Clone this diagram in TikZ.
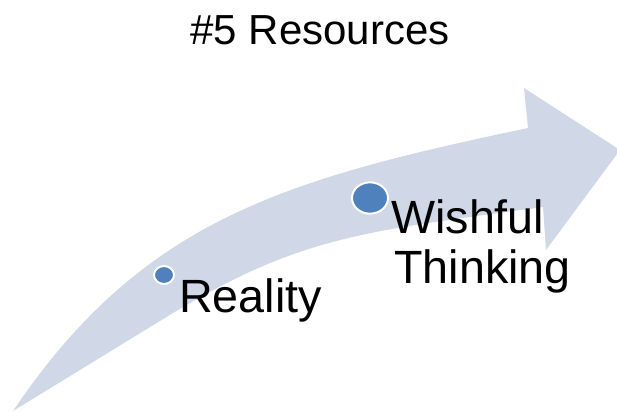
\documentclass[tikz,border=0pt]{standalone}
\usepackage{fontspec}
\setmainfont{Liberation Sans}
\usetikzlibrary{shapes.geometric}
\definecolor{arrowblue}{RGB}{208,216,232}
\definecolor{dotblue}{RGB}{79,129,189}
\tikzset{
  dot/.style={ellipse, fill=dotblue, draw=white, line width=1.5pt, inner sep=0pt},
  titletext/.style={anchor=base, font=\fontsize{31.5}{36}\selectfont},
  labeltext/.style={anchor=base west, font=\fontsize{35}{40}\selectfont, inner sep=0pt},
}
\begin{document}
\begin{tikzpicture}[x=0.75pt, y=-0.75pt]
\useasboundingbox (0,0) rectangle (617,411);
% curved arrow
\fill[arrowblue]
  (13,411) .. controls (141.8,220.1) and (283,179.5) .. (528,128)
  -- (524,88) -- (620,150) -- (546,250) -- (543,207)
  .. controls (364.8,231.5) and (301.6,235.8) .. (173,313)
  -- (13,411)
  -- cycle;
% dots
\node[dot, minimum width=15pt, minimum height=13.5pt] (d1) at (164,275) {};
\node[dot, minimum width=27pt, minimum height=23.5pt] (d2) at (370,198) {};
% texts
\node[titletext] (title) at (320,44) {\#5 Resources};
\node[labeltext] (reality) at (179,312) {Reality};
\node[labeltext] (wish) at (391,233) {Wishful};
\node[labeltext] (think) at (394,283) {Thinking};
\end{tikzpicture}
\end{document}
